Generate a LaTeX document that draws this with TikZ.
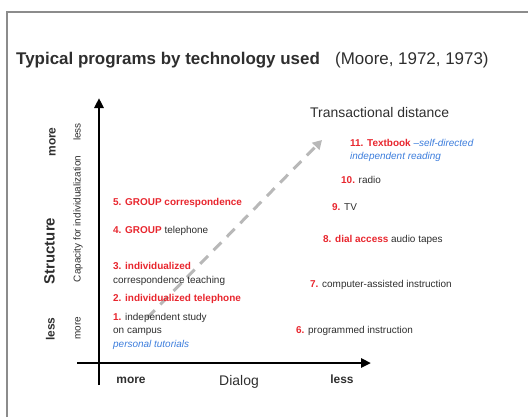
\documentclass[tikz,border=0pt]{standalone}
\usepackage{fontspec}
\setmainfont{Liberation Sans}
\usetikzlibrary{arrows.meta}
\definecolor{itemred}{HTML}{E8262E}
\definecolor{noteblue}{HTML}{3C7DDC}
\definecolor{txt}{HTML}{2E2E2E}
\definecolor{framegray}{HTML}{8C8C8C}
\definecolor{dashgray}{HTML}{B8B8B8}
\newcommand\rnum[1]{{\color{itemred}\bfseries #1}}
\newcommand\bnote[1]{{\color{noteblue}\itshape #1}}
\begin{document}
\begin{tikzpicture}[x=1bp,y=-1bp,
  lbl/.style={inner sep=0pt, text=txt, text height=0.72em, text depth=0.2em},
  item/.style={lbl, anchor=west, font=\fontsize{10}{12}\selectfont},
  heading/.style={lbl, anchor=west, font=\fontsize{17}{20}\selectfont},
  axlbl/.style={lbl, font=\fontsize{12}{14}\selectfont\bfseries},
  small/.style={lbl, rotate=90, font=\fontsize{10}{12}\selectfont},
  axis/.style={line width=2.8bp, -{Triangle[length=10bp,width=9bp]}},
  trend/.style={dashgray, line width=3bp, dash pattern=on 11bp off 8bp,
    -{Triangle[length=9bp,width=10bp]}}
]
\useasboundingbox (0,0) rectangle (528,417);

% slide frame
\draw[framegray, line width=1.3bp] (7,417) -- (7,12) -- (528,12);

% heading
\node[heading] (title) at (16,62) {\bfseries Typical programs by technology used};
\node[heading] (cite) at (335,62) {(Moore, 1972, 1973)};

% dashed trend arrow
\coordinate (tstart) at (147,318);
\coordinate (tend) at (322,140);
\draw[trend] (tstart) -- (tend);

% axes
\coordinate (ybot) at (99,385);
\coordinate (ytop) at (99,98);
\coordinate (xleft) at (77,363);
\coordinate (xright) at (371,363);
\draw[axis] (ybot) -- (ytop);
\draw[axis] (xleft) -- (xright);

% vertical axis labels
\node[axlbl, rotate=90] (ymore) at (53,142) {more};
\node[axlbl, rotate=90, font=\fontsize{15}{18}\selectfont\bfseries] (ystruct) at (52,251) {Structure};
\node[axlbl, rotate=90] (yless) at (52,329) {less};
\node[small] (cless) at (78,132) {less};
\node[small] (cap) at (78,219) {Capacity for individualization};
\node[small] (cmore) at (78,328) {more};

% horizontal axis labels
\node[axlbl] (xmore) at (131,381) {more};
\node[lbl, font=\fontsize{14}{16}\selectfont] (dialog) at (239,383) {Dialog};
\node[axlbl] (xless) at (342,381) {less};

% transactional distance
\node[lbl, anchor=west, font=\fontsize{14}{16}\selectfont] (td) at (310,115) {Transactional distance};

% programs, left column
\node[item] (p5) at (113,203) {\rnum{5. GROUP correspondence}};
\node[item] (p4) at (113,231) {\rnum{4. GROUP} telephone};
\node[item] (p3a) at (113,267) {\rnum{3. individualized}};
\node[item] (p3b) at (113,281) {correspondence teaching};
\node[item] (p2) at (113,299) {\rnum{2. individualized telephone}};
\node[item] (p1a) at (113,318) {\rnum{1.} independent study};
\node[item] (p1b) at (113,331) {on campus};
\node[item] (p1c) at (113,345) {\bnote{personal tutorials}};

% programs, right column
\node[item] (p11a) at (350,144) {\rnum{11. Textbook} \bnote{--self-directed}};
\node[item] (p11b) at (350,157) {\bnote{independent reading}};
\node[item] (p10) at (341,181) {\rnum{10.} radio};
\node[item] (p9) at (332,208) {\rnum{9.} TV};
\node[item] (p8) at (323,240) {\rnum{8. dial access} audio tapes};
\node[item] (p7) at (310,285) {\rnum{7.} computer-assisted instruction};
\node[item] (p6) at (296,331) {\rnum{6.} programmed instruction};
\end{tikzpicture}
\end{document}
